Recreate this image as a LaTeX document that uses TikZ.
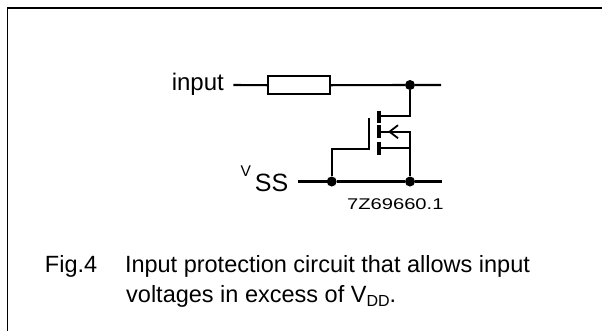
\documentclass[tikz,border=0pt]{standalone}
\usepackage{fontspec}
\usepackage{graphicx}
\setmainfont{Liberation Sans}

\tikzset{
  wire/.style={line width=2.1bp},
  gatebar/.style={line width=3.8bp},
  dot/.style={circle,fill,inner sep=0pt,minimum size=10bp},
  resbox/.style={draw,line width=2bp,minimum width=61.5bp,minimum height=17.5bp,inner sep=0pt},
  lbl/.style={inner sep=0pt,font=\fontsize{24bp}{28bp}\selectfont},
  captext/.style={inner sep=0pt,anchor=base west,font=\fontsize{23.5bp}{28bp}\selectfont},
}

\begin{document}
\begin{tikzpicture}[x=1bp,y=-1bp]
        \useasboundingbox (0,0) rectangle (602,331);
        \draw[line width=1.4bp] (7.5,331) -- (7.5,8) -- (602,8);
        % input and resistor
        \node[lbl,anchor=base east] (input) at (224,90.7) {input};
        \coordinate (inend) at (233.3,85);
        \node[resbox] (res) at (299,85.2) {};
        \node[dot] (jd) at (410,85) {};
        \coordinate (outtop) at (441,85);
        \draw[wire] (inend) -- (res.west);
        \draw[wire] (res.east) -- (jd) -- (outtop);
        % VSS rail
        \node[lbl,anchor=base east] (vss) at (288.5,191.7) {\raisebox{15bp}{\fontsize{15.5bp}{15bp}\selectfont V}\hspace{4bp}{\fontsize{25bp}{25bp}\selectfont SS}};
        \coordinate (vssl) at (298.3,181.5);
        \coordinate (vssr) at (441.7,181.5);
        \node[dot] (jg) at (331.7,181.5) {};
        \node[dot] (js) at (410,181.5) {};
        \draw[wire] (vssl) -- (jg) -- (js) -- (vssr);
        % mosfet
        \coordinate (drn) at (378.7,116);
        \coordinate (body) at (378.7,131.7);
        \coordinate (src) at (378.7,148.3);
        \coordinate (gt) at (369.3,118.3);
        \coordinate (gb) at (369.3,149.3);
        \draw[gatebar] (378.7,110.7) -- (378.7,123.3);
        \draw[gatebar] (378.7,125) -- (378.7,138.3);
        \draw[gatebar] (378.7,141.7) -- (378.7,155);
        \draw[wire] (jd) |- (drn);
        \draw[wire] (body) -| (js);
        \draw[wire] (src) -- (src -| js);
        \draw[wire] (gt) -- (gb) -| (jg);
        \draw[line width=1.8bp] (398,125.2) -- (389.5,131.7) -- (398,138.2);
        \node[inner sep=0pt,anchor=base] (code) at (395.3,209.3) {\scalebox{1.3}[1]{\fontsize{15.5bp}{15bp}\selectfont 7Z69660.1}};
        % caption
        \node[captext] (fig) at (44.8,272.3) {Fig.4};
        \node[captext] (cap1) at (124.8,272.3) {Input protection circuit that allows input};
        \node[captext] (cap2) at (126,302.7) {voltages in excess of V\raisebox{-3.5bp}{\fontsize{16bp}{16bp}\selectfont DD}.};
    \end{tikzpicture}
\end{document}
